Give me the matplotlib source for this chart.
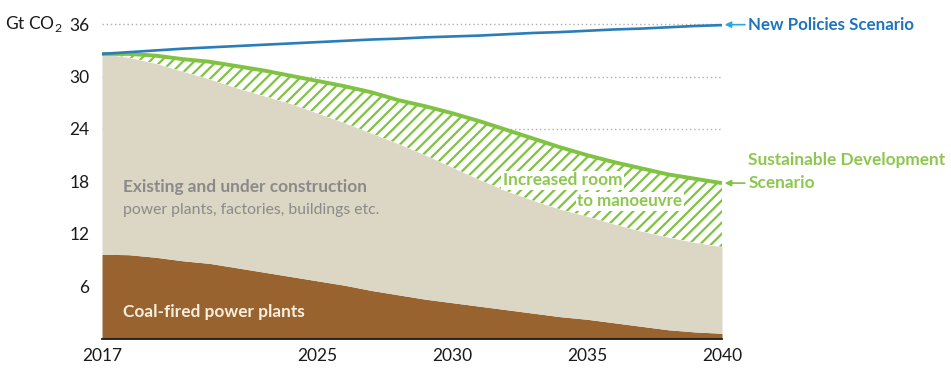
import matplotlib
matplotlib.use("Agg")
import matplotlib.pyplot as plt
import numpy as np

plt.rcParams['font.family'] = ['Lato', 'DejaVu Sans']
plt.rcParams['mathtext.fontset'] = 'custom'
plt.rcParams['mathtext.rm'] = 'Lato'
plt.rcParams['hatch.linewidth'] = 1.6

years = list(range(2017, 2041))
coal = [9.65, 9.6, 9.3, 8.9, 8.6, 8.1, 7.6, 7.1, 6.6, 6.1, 5.5, 5.0, 4.5, 4.1,
        3.7, 3.3, 2.9, 2.5, 2.2, 1.8, 1.4, 1.0, 0.75, 0.6]
existing = [32.6, 32.2, 31.5, 30.6, 29.7, 28.7, 27.8, 26.9, 25.8, 24.7, 23.5, 22.3,
            21.0, 19.6, 18.2, 16.9, 15.8, 14.8, 14.0, 13.1, 12.3, 11.6, 11.0, 10.5]
sds = [32.6, 32.6, 32.4, 32.0, 31.7, 31.2, 30.7, 30.1, 29.5, 28.9, 28.2, 27.3,
       26.6, 25.8, 24.9, 23.9, 22.9, 21.9, 21.0, 20.2, 19.5, 18.8, 18.3, 17.8]
nps = [32.6, 32.8, 33.0, 33.2, 33.35, 33.5, 33.65, 33.8, 33.95, 34.1, 34.25, 34.35,
       34.5, 34.6, 34.7, 34.85, 35.0, 35.1, 35.25, 35.4, 35.5, 35.65, 35.8, 35.9]
xticks = [2017, 2025, 2030, 2035, 2040]
yticks = [6, 12, 18, 24, 30, 36]
gridlines = [24, 30, 36]

C_COAL = '#98632f'
C_EXIST = '#dcd6c4'
C_GREEN = '#80c242'
C_GREEN_T = '#8dc750'
C_BLUE = '#2a7db8'
C_BLUE_T = '#1f74bb'
C_ARROW_B = '#2aa7df'
C_GRAY = '#8a8a8a'

fig = plt.figure(figsize=(9.51, 3.76), dpi=100)
ax = fig.add_axes([102/951, 37.5/376, 620/951, 323/376])
ax.set_xlim(2017, 2040)
ax.set_ylim(0, 37)

for g in gridlines:
    ax.axhline(g, color='#b0b0b0', lw=1.0, ls=(0, (1, 2)), zorder=0)

ax.fill_between(years, 0, coal, color=C_COAL, lw=0, zorder=2)
ax.fill_between(years, coal, existing, color=C_EXIST, lw=0, zorder=2)
ax.fill_between(years, existing, sds, facecolor='white', edgecolor=C_GREEN,
                hatch='///', lw=0, zorder=2)
ax.plot(years, sds, color=C_GREEN, lw=2.8, zorder=3, solid_capstyle='butt')
ax.plot(years, nps, color=C_BLUE, lw=1.9, zorder=4, solid_capstyle='butt')

for s in ['top', 'right', 'left']:
    ax.spines[s].set_visible(False)
ax.spines['bottom'].set_color('#1a1a1a')
ax.spines['bottom'].set_linewidth(1.3)
ax.spines['bottom'].set_zorder(5)

ax.set_xticks(xticks)
ax.set_xticklabels([str(x) for x in xticks], fontsize=12.5, color='#1a1a1a')
ax.set_yticks(yticks)
ax.set_yticklabels([str(y) for y in yticks], fontsize=12.5, color='#1a1a1a')
ax.tick_params(axis='both', length=0)
ax.tick_params(axis='y', pad=9)
ax.tick_params(axis='x', pad=7)

fig.text(62/951, 1 - 24/376, 'Gt CO$_2$', fontsize=12.5, color='#1a1a1a',
         ha='right', va='center')

# annotations
ax.annotate('', xy=(2040.1, 35.95), xytext=(2040.85, 35.95),
            arrowprops=dict(arrowstyle='-|>', color=C_ARROW_B, lw=1.2,
                            mutation_scale=9, shrinkA=0, shrinkB=0),
            annotation_clip=False)
ax.text(2040.97, 35.95, 'New Policies Scenario', fontsize=12.2, fontweight='bold',
        color=C_BLUE_T, ha='left', va='center', clip_on=False)

ax.annotate('', xy=(2040.1, 17.8), xytext=(2040.85, 17.8),
            arrowprops=dict(arrowstyle='-|>', color=C_GREEN, lw=1.2,
                            mutation_scale=9, shrinkA=0, shrinkB=0),
            annotation_clip=False)
ax.text(2040.97, 20.4, 'Sustainable Development', fontsize=12.4, fontweight='bold',
        color=C_GREEN_T, ha='left', va='center', clip_on=False)
ax.text(2040.97, 17.8, 'Scenario', fontsize=12.4, fontweight='bold',
        color=C_GREEN_T, ha='left', va='center', clip_on=False)

bbox_w = dict(boxstyle='square,pad=0.1', fc='white', ec='none')
ax.text(2031.88, 18.1, 'Increased room', fontsize=12.4, fontweight='bold',
        color=C_GREEN_T, ha='left', va='center', zorder=6, bbox=bbox_w)
ax.text(2034.63, 15.7, 'to manoeuvre', fontsize=12.2, fontweight='bold',
        color=C_GREEN_T, ha='left', va='center', zorder=6, bbox=bbox_w)

ax.text(2017.78, 17.35, 'Existing and under construction', fontsize=12.4,
        fontweight='bold', color=C_GRAY, ha='left', va='center', zorder=6)
ax.text(2017.78, 14.7, 'power plants, factories, buildings etc.', fontsize=11.3,
        color=C_GRAY, ha='left', va='center', zorder=6)
ax.text(2017.78, 3.0, 'Coal-fired power plants', fontsize=12.4,
        fontweight='bold', color='#f7efe0', ha='left', va='center', zorder=6)

fig.savefig('out.png', dpi=100)
